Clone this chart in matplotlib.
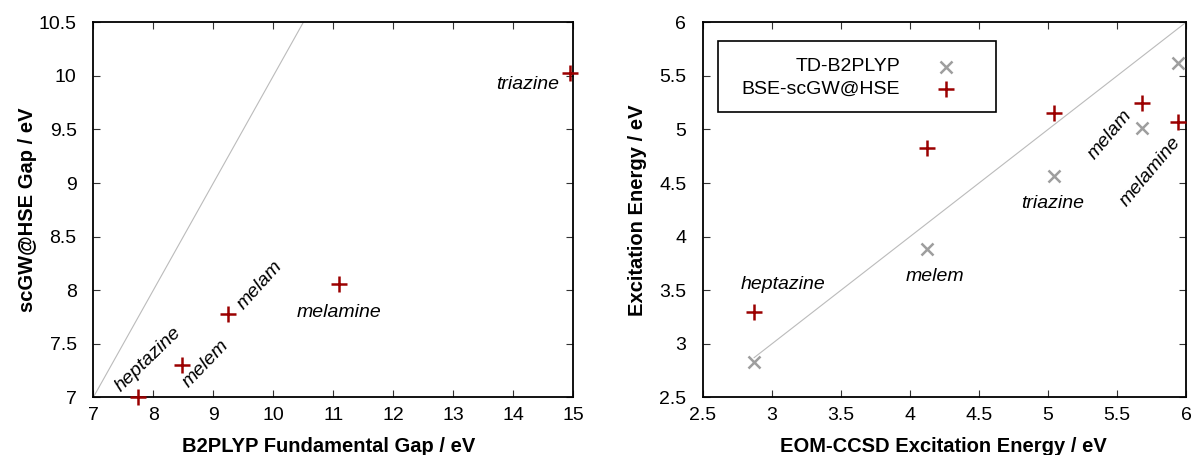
import matplotlib.pyplot as plt
from matplotlib.patches import Rectangle

plt.rcParams['font.family'] = ['Liberation Sans', 'DejaVu Sans']

# left panel: fundamental gaps
molecules = ['heptazine', 'melem', 'melam', 'melamine', 'triazine']
b2plyp_gap = [7.75, 8.47, 9.24, 11.10, 14.95]
scgw_gap = [7.00, 7.30, 7.78, 8.06, 10.03]

# right panel: excitation energies
eom_ccsd = [2.87, 4.12, 5.04, 5.68, 5.94]
td_b2plyp = [2.83, 3.88, 4.57, 5.01, 5.62]
bse_scgw = [3.30, 4.83, 5.15, 5.25, 5.07]

red = '#9b0000'
grey = '#9e9e9e'

fig = plt.figure(figsize=(11.92, 4.55), dpi=100)
ax1 = fig.add_axes([0.0783, 0.1268, 0.4027, 0.8242])
ax2 = fig.add_axes([0.5898, 0.1268, 0.4052, 0.8242])

for ax in (ax1, ax2):
    ax.tick_params(direction='in', length=5, width=0.8, color='#333333',
                   top=True, right=True, labelsize=14)
    ax.tick_params(axis='y', pad=12)
    ax.tick_params(axis='x', pad=7)
    for s in ax.spines.values():
        s.set_linewidth(1.3)

# ---- left
ax1.plot([7, 10.5], [7, 10.5], color='#bbbbbb', lw=0.8)
ax1.plot(b2plyp_gap, scgw_gap, '+', color=red, ms=11, mew=1.8, clip_on=False, zorder=5)
ax1.set_xlim(7, 15)
ax1.set_ylim(7, 10.5)
ax1.set_xticks(range(7, 16))
ax1.set_yticks([7, 7.5, 8, 8.5, 9, 9.5, 10, 10.5])
ax1.set_yticklabels(['7', '7.5', '8', '8.5', '9', '9.5', '10', '10.5'])
ax1.set_xlabel('B2PLYP Fundamental Gap / eV', fontsize=14.5, fontweight='bold')
ax1.set_ylabel('scGW@HSE Gap / eV', fontsize=14.5, fontweight='bold')
ax1.xaxis.set_label_coords(0.49, -0.105)
ax1.yaxis.set_label_coords(-0.118, 0.5)

lab_kw = dict(fontsize=14, style='italic', ha='center', va='center')
ax1.text(7.92, 7.35, 'heptazine', rotation=44, rotation_mode='anchor', **lab_kw)
ax1.text(8.87, 7.31, 'melem', rotation=46, rotation_mode='anchor', **lab_kw)
ax1.text(9.77, 8.05, 'melam', rotation=48, rotation_mode='anchor', **lab_kw)
ax1.text(11.10, 7.79, 'melamine', **lab_kw)
ax1.text(14.77, 9.92, 'triazine', fontsize=14, style='italic', ha='right', va='center')

# ---- right
ax2.plot([eom_ccsd[0], 6], [eom_ccsd[0], 6], color='#bbbbbb', lw=0.8)
ax2.plot(eom_ccsd, td_b2plyp, 'x', color=grey, ms=8, mew=1.8, clip_on=False, zorder=5)
ax2.plot(eom_ccsd, bse_scgw, '+', color=red, ms=11, mew=1.8, clip_on=False, zorder=5)
ax2.set_xlim(2.5, 6)
ax2.set_ylim(2.5, 6)
ticks = [2.5, 3, 3.5, 4, 4.5, 5, 5.5, 6]
tick_lbls = ['2.5', '3', '3.5', '4', '4.5', '5', '5.5', '6']
ax2.set_xticks(ticks)
ax2.set_xticklabels(tick_lbls)
ax2.set_yticks(ticks)
ax2.set_yticklabels(tick_lbls)
ax2.set_xlabel('EOM-CCSD Excitation Energy / eV', fontsize=14.5, fontweight='bold')
ax2.set_ylabel('Excitation Energy / eV', fontsize=14.5, fontweight='bold')
ax2.xaxis.set_label_coords(0.497, -0.105)
ax2.yaxis.set_label_coords(-0.116, 0.5)

ax2.text(3.08, 3.55, 'heptazine', **lab_kw)
ax2.text(4.18, 3.63, 'melem', **lab_kw)
ax2.text(5.03, 4.31, 'triazine', **lab_kw)
ax2.text(5.45, 4.95, 'melam', rotation=50, rotation_mode='anchor', **lab_kw)
ax2.text(5.74, 4.61, 'melamine', rotation=50, rotation_mode='anchor', **lab_kw)

# gnuplot-style key: text right aligned, sample on the right
ax2.add_patch(Rectangle((0.030, 0.762), 0.576, 0.188, transform=ax2.transAxes,
                        fill=False, edgecolor='black', lw=1.2, zorder=6))
ax2.text(0.408, 0.882, 'TD-B2PLYP', transform=ax2.transAxes, fontsize=14,
         ha='right', va='center')
ax2.text(0.408, 0.822, 'BSE-scGW@HSE', transform=ax2.transAxes, fontsize=14,
         ha='right', va='center')
ax2.plot([0.502], [0.882], 'x', color=grey, ms=8, mew=1.8, transform=ax2.transAxes)
ax2.plot([0.502], [0.822], '+', color=red, ms=11, mew=1.8, transform=ax2.transAxes)

plt.savefig('out.png', dpi=100)
